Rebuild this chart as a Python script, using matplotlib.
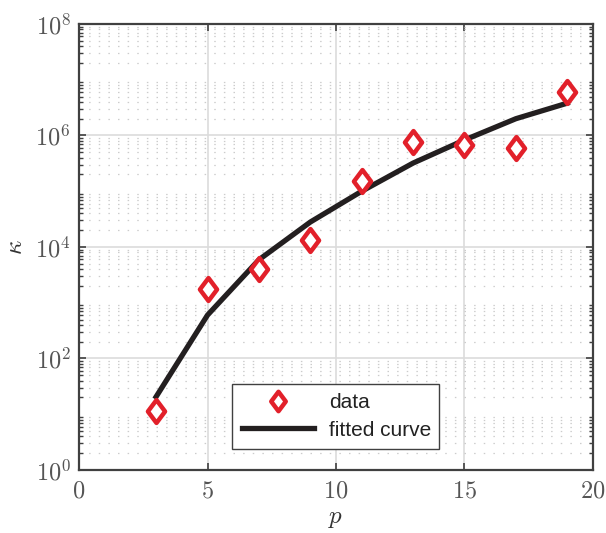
import numpy as np
import matplotlib
matplotlib.use('Agg')
import matplotlib.pyplot as plt
from matplotlib.path import Path
from matplotlib.ticker import LogLocator, FixedLocator, FuncFormatter, NullFormatter

# data
p = [3, 5, 7, 9, 11, 13, 15, 17, 19]
kappa_data = [11.6, 1780, 4030, 13300, 1.5e5, 7.6e5, 6.7e5, 6.0e5, 6.0e6]
kappa_fit = [20.6, 600, 5900, 2.8e4, 1.0e5, 3.2e5, 8.3e5, 2.0e6, 3.8e6]

plt.rcParams['mathtext.fontset'] = 'cm'
axcol = '#404040'

# MATLAB-style diamond (a bit taller than wide)
diamond = Path([(0, 1), (0.75, 0), (0, -1), (-0.75, 0), (0, 1)],
               [Path.MOVETO, Path.LINETO, Path.LINETO, Path.LINETO, Path.CLOSEPOLY])

fig = plt.figure(figsize=(6.06, 5.33), dpi=100)
ax = fig.add_axes([0.1304, 0.1182, 0.8481, 0.8368])

ax.plot(p, kappa_data, linestyle='none', marker=diamond, markersize=16.5,
        markeredgewidth=3.2, markeredgecolor='#e2202a', markerfacecolor='white',
        label='data', zorder=4)
ax.plot(p, kappa_fit, color='#231f20', linewidth=3.8, label='fitted curve', zorder=3)

ax.set_yscale('log')
ax.set_xlim(0, 20)
ax.set_ylim(1, 1e8)

ax.xaxis.set_major_locator(FixedLocator([0, 5, 10, 15, 20]))
ax.xaxis.set_major_formatter(FuncFormatter(lambda v, pos: r'$%d$' % v))
ax.yaxis.set_major_locator(FixedLocator([1e0, 1e2, 1e4, 1e6, 1e8]))
ax.yaxis.set_major_formatter(FuncFormatter(lambda v, pos: r'$10^{%d}$' % round(np.log10(v))))
ax.yaxis.set_minor_locator(LogLocator(base=10, subs=np.arange(2, 10), numticks=20))
ax.yaxis.set_minor_formatter(NullFormatter())

# grid
ax.grid(True, which='major', color='#dcdcdc', linewidth=1.2, linestyle='-')
ax.grid(True, which='minor', axis='y', color='#cccccc', linewidth=0.9, linestyle=(0, (1.2, 6.5)))
ax.set_axisbelow(True)

ax.tick_params(which='both', direction='in', top=True, right=True, colors=axcol,
               labelcolor='#555555', labelsize=17.5)
ax.tick_params(which='major', length=5, width=1.2, pad=6)
ax.tick_params(which='minor', length=3, width=1.0)
for s in ax.spines.values():
    s.set_color(axcol)
    s.set_linewidth(1.6)

ax.set_xlabel(r'$p$', fontsize=18, color='#333333', labelpad=3)
ax.set_ylabel(r'$\kappa$', fontsize=18, color='#333333', labelpad=6)

leg = ax.legend(loc='lower left', bbox_to_anchor=(0.298, 0.047, 0.403, 0.146),
                mode='expand', borderaxespad=0, fancybox=False, framealpha=1,
                edgecolor=axcol, prop={'family': 'Liberation Sans', 'size': 15},
                handlelength=3.5, borderpad=0.45, labelspacing=0.42, handletextpad=0.7)
leg.get_frame().set_linewidth(1.0)
for t in leg.get_texts():
    t.set_color('#222222')
leg.legend_handles[0].set_markersize(14)
leg.legend_handles[0].set_markeredgewidth(3.2)

fig.savefig('out.png', dpi=100)
